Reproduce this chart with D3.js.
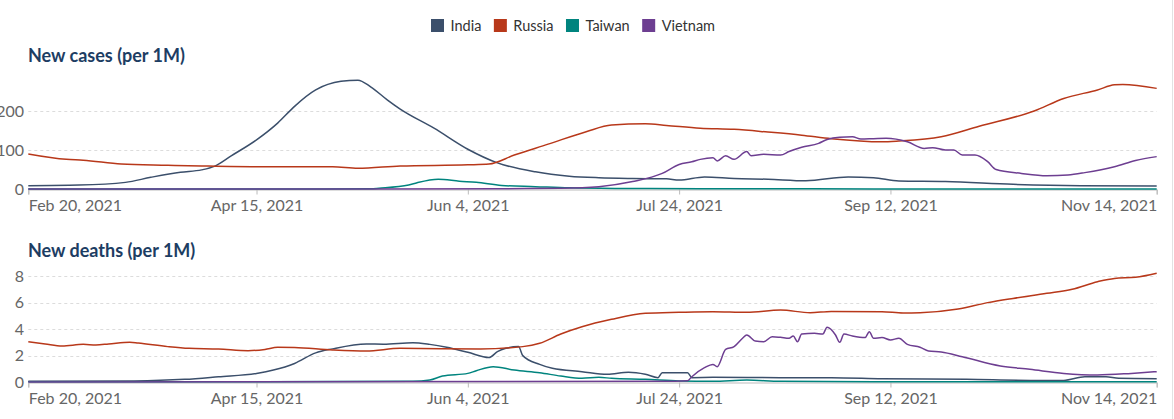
<!DOCTYPE html>
<html>
<head>
<meta charset="utf-8">
<script src="https://cdn.jsdelivr.net/npm/d3@7/dist/d3.min.js"></script>
<style>
  html, body { margin: 0; padding: 0; background: #fff; }
  svg { display: block; font-family: Lato, "Noto Sans", sans-serif; }
</style>
</head>
<body>
<svg id="chart" width="1174" height="419"></svg>
<script>
// ---------------- DATA ----------------
const countries = ["India", "Russia", "Taiwan", "Vietnam"];
const colors = ["#3b4f6b", "#b8381a", "#00847e", "#6d3e91"];

const dateStart = "2021-02-20";
const dateEnd = "2021-11-14";
const xTickDates = ["2021-02-20", "2021-04-15", "2021-06-04", "2021-07-24", "2021-09-12", "2021-11-14"];

const casesTitle = "New cases (per 1M)";
const deathsTitle = "New deaths (per 1M)";
const casesTicks = [0, 100, 200];
const deathsTicks = [0, 2, 4, 6, 8];

// New cases per 1M
const indiaCases = [["2021-02-20",8.5],["2021-03-04",10],["2021-03-15",17],["2021-03-21",30],["2021-03-28",43],["2021-04-02",49],["2021-04-05",58],["2021-04-09",85],["2021-04-15",126],["2021-04-20",169],["2021-04-24",212],["2021-04-29",254],["2021-05-05",276],["2021-05-09",279],["2021-05-12",262],["2021-05-16",228],["2021-05-19",205],["2021-05-27",156],["2021-06-04",102],["2021-06-11",67],["2021-06-20",44],["2021-06-28",33],["2021-07-05",29],["2021-07-13",27],["2021-07-21",26],["2021-07-24",23],["2021-07-30",31],["2021-08-06",27],["2021-08-14",25],["2021-08-23",21],["2021-09-02",31],["2021-09-08",29],["2021-09-14",20.5],["2021-09-25",19],["2021-10-11",12],["2021-10-27",8.5],["2021-11-14",7.7]];
const russiaCases = [["2021-02-20",90],["2021-03-01",76],["2021-03-05",74],["2021-03-14",64],["2021-03-25",61],["2021-04-02",59],["2021-04-15",57],["2021-05-03",57],["2021-05-09",53],["2021-05-19",59],["2021-06-04",62],["2021-06-09",64],["2021-06-15",87],["2021-06-23",115],["2021-07-02",147],["2021-07-08",164],["2021-07-16",167],["2021-07-21",163],["2021-07-29",156],["2021-08-06",153],["2021-08-14",146],["2021-08-22",138],["2021-08-29",129],["2021-09-10",121],["2021-09-14",123],["2021-09-24",134],["2021-10-03",161],["2021-10-16",200],["2021-10-23",232],["2021-10-31",254],["2021-11-04",267],["2021-11-06",268],["2021-11-14",258]];
const taiwanCases = [["2021-02-20",0.1],["2021-04-21",0.1],["2021-05-12",0.5],["2021-05-14",2],["2021-05-21",10],["2021-05-23",16],["2021-05-28",25],["2021-06-02",20],["2021-06-06",17],["2021-06-12",9],["2021-06-20",6],["2021-06-28",3],["2021-07-10",1.5],["2021-07-29",0.8],["2021-09-08",0.3],["2021-11-14",0.2]];
const vietnamCases = [["2021-02-20",0.1],["2021-05-11",0.3],["2021-06-12",0.8],["2021-06-26",2],["2021-07-05",6],["2021-07-13",19],["2021-07-20",40],["2021-07-24",63],["2021-07-27",70],["2021-07-29",76],["2021-08-01",80],["2021-08-02",72],["2021-08-04",85],["2021-08-06",76],["2021-08-09",96],["2021-08-10",85],["2021-08-13",89],["2021-08-17",87],["2021-08-19",96],["2021-08-22",107],["2021-08-26",117],["2021-08-28",127],["2021-08-31",133],["2021-09-03",134],["2021-09-05",128],["2021-09-08",129],["2021-09-11",130],["2021-09-16",121],["2021-09-20",104],["2021-09-22",106],["2021-09-25",100],["2021-09-27",100],["2021-09-29",87],["2021-10-02",87],["2021-10-05",70],["2021-10-07",50],["2021-10-13",40],["2021-10-19",34],["2021-10-24",36],["2021-10-28",42],["2021-11-04",57],["2021-11-09",73],["2021-11-14",83]];

// New deaths per 1M
const indiaDeaths = [["2021-02-20",0.05],["2021-03-17",0.08],["2021-03-29",0.2],["2021-04-06",0.4],["2021-04-15",0.65],["2021-04-19",0.9],["2021-04-24",1.4],["2021-04-29",2.2],["2021-05-03",2.5],["2021-05-11",2.87],["2021-05-15",2.85],["2021-05-22",2.97],["2021-05-26",2.84],["2021-05-30",2.62],["2021-06-04",2.24],["2021-06-09",1.84],["2021-06-11",2.29],["2021-06-13",2.54],["2021-06-16",2.67],["2021-06-17",1.99],["2021-06-21",1.33],["2021-06-24",1.03],["2021-07-01",0.78],["2021-07-07",0.58],["2021-07-12",0.73],["2021-07-16",0.58],["2021-07-19",0.33],["2021-07-20",0.7],["2021-07-26",0.7],["2021-07-27",0.33],["2021-08-01",0.35],["2021-08-17",0.33],["2021-08-29",0.33],["2021-09-10",0.25],["2021-09-30",0.2],["2021-10-16",0.12],["2021-10-23",0.12],["2021-10-28",0.4],["2021-11-02",0.4],["2021-11-05",0.28],["2021-11-14",0.25]];
const russiaDeaths = [["2021-02-20",3.04],["2021-02-24",2.87],["2021-02-28",2.72],["2021-03-05",2.84],["2021-03-08",2.8],["2021-03-11",2.87],["2021-03-16",3.0],["2021-03-18",2.94],["2021-03-25",2.67],["2021-03-30",2.54],["2021-04-06",2.49],["2021-04-13",2.36],["2021-04-17",2.46],["2021-04-20",2.62],["2021-04-24",2.6],["2021-05-03",2.42],["2021-05-11",2.34],["2021-05-19",2.54],["2021-06-07",2.49],["2021-06-17",2.67],["2021-06-21",2.92],["2021-06-26",3.62],["2021-07-01",4.17],["2021-07-08",4.73],["2021-07-16",5.18],["2021-07-24",5.26],["2021-08-01",5.31],["2021-08-09",5.26],["2021-08-17",5.43],["2021-08-24",5.23],["2021-08-29",5.33],["2021-09-10",5.31],["2021-09-15",5.21],["2021-09-19",5.23],["2021-09-28",5.51],["2021-10-05",5.99],["2021-10-11",6.31],["2021-10-19",6.69],["2021-10-25",7.0],["2021-10-31",7.57],["2021-11-04",7.82],["2021-11-09",7.9],["2021-11-14",8.2]];
const taiwanDeaths = [["2021-02-20",0.01],["2021-05-22",0.05],["2021-05-26",0.15],["2021-05-29",0.45],["2021-06-04",0.65],["2021-06-06",0.85],["2021-06-10",1.16],["2021-06-15",0.9],["2021-06-21",0.7],["2021-06-26",0.45],["2021-07-01",0.28],["2021-07-05",0.35],["2021-07-08",0.28],["2021-07-16",0.2],["2021-07-24",0.08],["2021-08-01",0.05],["2021-08-09",0.15],["2021-08-17",0.05],["2021-09-08",0.02],["2021-11-14",0.01]];
const vietnamDeaths = [["2021-02-20",0.0],["2021-07-20",0.05],["2021-07-26",0.1],["2021-07-27",0.4],["2021-07-30",1.08],["2021-08-01",1.33],["2021-08-02",1.16],["2021-08-04",2.46],["2021-08-06",2.67],["2021-08-08",3.3],["2021-08-09",3.55],["2021-08-11",3.09],["2021-08-13",3.04],["2021-08-15",3.42],["2021-08-17",3.37],["2021-08-19",3.3],["2021-08-20",3.47],["2021-08-21",3.04],["2021-08-22",3.62],["2021-08-25",3.67],["2021-08-27",3.62],["2021-08-28",4.13],["2021-08-30",3.55],["2021-08-31",3.0],["2021-09-01",3.62],["2021-09-03",3.47],["2021-09-06",3.35],["2021-09-07",3.8],["2021-09-08",3.3],["2021-09-10",3.35],["2021-09-12",3.17],["2021-09-14",3.3],["2021-09-16",2.84],["2021-09-19",2.62],["2021-09-21",2.34],["2021-09-24",2.26],["2021-09-29",1.91],["2021-10-08",1.21],["2021-10-15",0.96],["2021-10-23",0.65],["2021-10-31",0.53],["2021-11-08",0.65],["2021-11-14",0.78]];

// ---------------- DRAW ----------------
const parse = d3.utcParse("%Y-%m-%d");
const fmt = d3.utcFormat("%b %-d, %Y");
const svg = d3.select("#chart");
const W = 1174, H = 419;

const x = d3.scaleUtc().domain([parse(dateStart), parse(dateEnd)]).range([28.3, 1156.7]);

// right frame border
svg.append("line").attr("x1", 1172.5).attr("x2", 1172.5).attr("y1", 0).attr("y2", H)
  .attr("stroke", "#e2e2e2").attr("stroke-width", 1);

// legend
const legend = svg.append("g").attr("class", "legend");
let lx = 431;
countries.forEach((c, i) => {
  const g = legend.append("g").attr("transform", `translate(${lx},0)`);
  g.append("rect").attr("x", 0).attr("y", 19).attr("width", 13).attr("height", 13).attr("fill", colors[i]);
  const t = g.append("text").attr("x", 19.5).attr("y", 30.5).attr("font-size", 14.5)
    .attr("fill", "#333").text(c);
  const w = t.node().getComputedTextLength();
  lx += 19.5 + w + 12.5;
});

function panel(cfg) {
  const y = d3.scaleLinear().domain(cfg.domain).range(cfg.range);
  const g = svg.append("g");

  g.append("text").attr("x", 28).attr("y", cfg.titleY).attr("font-size", 18)
    .attr("font-weight", 700).attr("fill", "#1d3d63").text(cfg.title);

  // gridlines
  g.append("g").selectAll("line").data(cfg.ticks.filter(d => d !== 0)).join("line")
    .attr("x1", 28.3).attr("x2", 1156.7)
    .attr("y1", d => Math.round(y(d)) + 0.5).attr("y2", d => Math.round(y(d)) + 0.5)
    .attr("stroke", "#dcdcdc").attr("stroke-dasharray", "3,3").attr("stroke-width", 1);

  // y axis labels
  const ya = g.append("g").attr("transform", "translate(28,0)")
    .call(d3.axisLeft(y).tickValues(cfg.ticks).tickSize(0).tickPadding(4).tickFormat(d3.format("d")));
  ya.select(".domain").remove();
  ya.selectAll("text").attr("font-size", 16).attr("fill", "#666").attr("font-family", "Lato, sans-serif");

  // x axis
  const y0 = Math.round(y(0)) + 0.5;
  const xa = g.append("g").attr("transform", `translate(0,${y0})`)
    .call(d3.axisBottom(x).tickValues(xTickDates.map(parse)).tickSize(5).tickPadding(cfg.xPad).tickFormat(fmt));
  xa.select(".domain").attr("stroke", "#bbb");
  xa.selectAll(".tick line").attr("stroke", "#bbb");
  xa.selectAll("text").attr("font-size", 16).attr("fill", "#666").attr("font-family", "Lato, sans-serif")
    .attr("text-anchor", (d, i, n) => i === 0 ? "start" : (i === n.length - 1 ? "end" : "middle"));

  const line = d3.line().x(d => x(parse(d[0]))).y(d => y(d[1])).curve(d3.curveMonotoneX);
  cfg.series.forEach((s, i) => {
    g.append("path").datum(s).attr("d", line).attr("fill", "none")
      .attr("stroke", colors[i]).attr("stroke-width", 1.5).attr("stroke-linejoin", "round");
  });
}

panel({
  title: casesTitle, titleY: 62, ticks: casesTicks, xPad: 5.5,
  domain: [0, 280], range: [189, 189 - 280 * 0.39],
  series: [indiaCases, russiaCases, taiwanCases, vietnamCases]
});
panel({
  title: deathsTitle, titleY: 257, ticks: deathsTicks, xPad: 5.5,
  domain: [0, 8.2], range: [382, 382 - 8.2 * 13.25],
  series: [indiaDeaths, russiaDeaths, taiwanDeaths, vietnamDeaths]
});
</script>
</body>
</html>
